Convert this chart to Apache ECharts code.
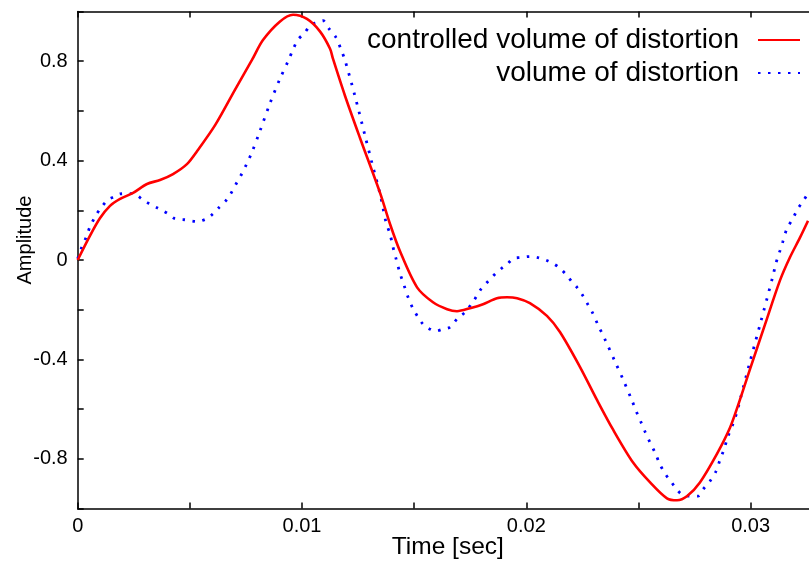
<!DOCTYPE html>
<html>
<head>
<meta charset="utf-8">
<script src="https://cdn.jsdelivr.net/npm/echarts@6/dist/echarts.min.js"></script>
<style>
html,body{margin:0;padding:0;background:#fff;}
#chart{width:809px;height:562px;}
</style>
</head>
<body>
<div id="chart"></div>
<script>
// Series names
const seriesNames = ['controlled volume of distortion', 'volume of distortion'];

// Controlled volume of distortion (red, solid)
const redTime = [0, 0.00055, 0.00099, 0.00144, 0.00189, 0.00247, 0.00309, 0.00367, 0.00425, 0.00487,
  0.00532, 0.00614, 0.00701, 0.00777, 0.00826, 0.00902, 0.00960, 0.01022, 0.01080, 0.01125,
  0.01138, 0.01192, 0.01259, 0.01348, 0.01392, 0.01437, 0.01513, 0.01584, 0.01647, 0.01691,
  0.01749, 0.01807, 0.01869, 0.01914, 0.01959, 0.02016, 0.02092, 0.02150, 0.02239, 0.02315,
  0.02387, 0.02476, 0.02552, 0.02627, 0.02672, 0.02716, 0.02774, 0.02850, 0.02908, 0.02944,
  0.02997, 0.03064, 0.03131, 0.03175, 0.03220, 0.03256];
const redAmp = [0, 0.098, 0.168, 0.218, 0.246, 0.270, 0.306, 0.322, 0.346, 0.386,
  0.438, 0.545, 0.685, 0.805, 0.885, 0.960, 0.987, 0.970, 0.920, 0.850,
  0.810, 0.660, 0.490, 0.270, 0.146, 0.035, -0.110, -0.170, -0.198, -0.206,
  -0.194, -0.178, -0.154, -0.150, -0.154, -0.174, -0.225, -0.290, -0.430, -0.563,
  -0.683, -0.815, -0.895, -0.959, -0.967, -0.951, -0.895, -0.780, -0.675, -0.585,
  -0.440, -0.260, -0.082, 0.010, 0.090, 0.158];

// Volume of distortion (blue, dotted)
const blueTime = [0, 0.00018, 0.00037, 0.00055, 0.00080, 0.00104, 0.00134, 0.00162, 0.00189, 0.00218,
  0.00247, 0.00291, 0.00318, 0.00352, 0.00380, 0.00403, 0.00434, 0.00478, 0.00531, 0.00575,
  0.00603, 0.00630, 0.00660, 0.00679, 0.00706, 0.00731, 0.00753, 0.00776, 0.00813, 0.00857,
  0.00902, 0.00938, 0.00960, 0.00982, 0.01009, 0.01040, 0.01067, 0.01094, 0.01120, 0.01152,
  0.01174, 0.01192, 0.01236, 0.01281, 0.01312, 0.01348, 0.01361, 0.01375, 0.01392, 0.01404,
  0.01419, 0.01437, 0.01455, 0.01473, 0.01494, 0.01517, 0.01539, 0.01562, 0.01597, 0.01629,
  0.01660, 0.01694, 0.01727, 0.01767, 0.01794, 0.01821, 0.01846, 0.01868, 0.01895, 0.01918,
  0.01941, 0.01975, 0.02016, 0.02052, 0.02091, 0.02119, 0.02146, 0.02177, 0.02202, 0.02226,
  0.02251, 0.02274, 0.02296, 0.02320, 0.02351, 0.02396, 0.02431, 0.02470, 0.02492, 0.02510,
  0.02529, 0.02552, 0.02574, 0.02596, 0.02621, 0.02644, 0.02667, 0.02693, 0.02725, 0.02765,
  0.02788, 0.02819, 0.02846, 0.02864, 0.02881, 0.02899, 0.02920, 0.02938, 0.02953, 0.02997,
  0.03042, 0.03099, 0.03113, 0.03131, 0.03144, 0.03162, 0.03188, 0.03210, 0.03238, 0.03256];
const blueAmp = [0.005, 0.051, 0.090, 0.134, 0.178, 0.210, 0.242, 0.254, 0.266, 0.267,
  0.267, 0.242, 0.227, 0.211, 0.198, 0.186, 0.166, 0.162, 0.155, 0.166,
  0.186, 0.211, 0.238, 0.262, 0.306, 0.346, 0.386, 0.432, 0.520, 0.630,
  0.730, 0.800, 0.847, 0.887, 0.911, 0.947, 0.955, 0.963, 0.931, 0.895,
  0.847, 0.803, 0.660, 0.500, 0.390, 0.266, 0.210, 0.150, 0.106, 0.058,
  0.006, -0.054, -0.102, -0.150, -0.194, -0.230, -0.258, -0.274, -0.286, -0.278,
  -0.270, -0.234, -0.210, -0.162, -0.122, -0.094, -0.070, -0.050, -0.030, -0.014,
  0.006, 0.010, 0.014, 0.010, -0.002, -0.014, -0.030, -0.058, -0.086, -0.110,
  -0.142, -0.178, -0.214, -0.262, -0.320, -0.410, -0.480, -0.563, -0.613, -0.650,
  -0.690, -0.735, -0.775, -0.823, -0.863, -0.890, -0.919, -0.943, -0.950, -0.950,
  -0.923, -0.890, -0.850, -0.803, -0.763, -0.710, -0.663, -0.615, -0.563, -0.410,
  -0.260, -0.066, -0.013, 0.038, 0.075, 0.126, 0.166, 0.206, 0.242, 0.270];

// Axis settings
const xMin = 0, xMax = 0.033, xStep = 0.005;   // ticks every 0.005, labels every 0.01
const yMin = -1, yMax = 1, yStep = 0.2;        // ticks every 0.2, labels every 0.4
const xTitle = 'Time [sec]';
const yTitle = 'Amplitude';

const zip = (a, b) => a.map((v, i) => [v, b[i]]);
const FONT = '"Liberation Sans", Arial, Helvetica, sans-serif';

const xLabel = v => {
  const k = Math.round(v * 1000);
  if (k % 10 !== 0) return '';
  return String(k / 1000);
};
const yLabel = v => {
  const k = Math.round(v * 10);
  if (k % 4 !== 0) return '';
  return String(k / 10);
};

const axisLineStyle = { color: '#000', width: 1.5 };

const chart = echarts.init(document.getElementById('chart'), null, { renderer: 'canvas' });
chart.setOption({
  animation: false,
  backgroundColor: '#fff',
  grid: { left: 77.7, top: 11.5, bottom: 53.5, right: -8.9, containLabel: false, outerBoundsMode: 'none' },
  legend: {
    orient: 'vertical',
    align: 'right',
    right: 3,
    top: 21,
    itemWidth: 42,
    itemHeight: 14,
    itemGap: 5,
    data: seriesNames,
    itemStyle: { color: 'rgba(0,0,0,0)', borderWidth: 0, opacity: 0 },
    textStyle: { fontFamily: FONT, fontSize: 28, color: '#000', padding: [0, 14, 0, 0] }
  },
  xAxis: [{
    type: 'value', min: xMin, max: xMax, interval: xStep, position: 'bottom',
    name: xTitle, nameLocation: 'middle', nameGap: 26, nameMoveOverlap: false,
    nameTextStyle: { fontFamily: FONT, fontSize: 24.5, color: '#000' },
    axisLine: { show: true, onZero: false, lineStyle: axisLineStyle },
    axisTick: { show: true, inside: true, length: 6, lineStyle: axisLineStyle },
    axisLabel: { formatter: xLabel, fontFamily: FONT, fontSize: 20, color: '#000', margin: 8, showMaxLabel: false },
    splitLine: { show: false }
  }, {
    type: 'value', min: xMin, max: xMax, interval: xStep, position: 'top',
    axisLine: { show: true, onZero: false, lineStyle: axisLineStyle },
    axisTick: { show: true, inside: true, length: 6, lineStyle: axisLineStyle },
    axisLabel: { show: false },
    splitLine: { show: false }
  }],
  yAxis: [{
    type: 'value', min: yMin, max: yMax, interval: yStep, position: 'left',
    name: yTitle, nameLocation: 'middle', nameGap: 42, nameRotate: 90, nameMoveOverlap: false,
    nameTextStyle: { fontFamily: FONT, fontSize: 20, color: '#000', padding: [0, 0, 0, 40] },
    axisLine: { show: true, onZero: false, lineStyle: axisLineStyle },
    axisTick: { show: true, inside: true, length: 6, lineStyle: axisLineStyle },
    axisLabel: { formatter: yLabel, fontFamily: FONT, fontSize: 20, color: '#000', margin: 10 },
    splitLine: { show: false }
  }],
  series: [{
    name: seriesNames[0], type: 'line', xAxisIndex: 0, yAxisIndex: 0,
    data: zip(redTime, redAmp), symbol: 'none', showSymbol: false, smooth: 0.3,
    lineStyle: { color: '#ff0000', width: 2.6 }, itemStyle: { color: '#ff0000' }, z: 3
  }, {
    name: seriesNames[1], type: 'line', xAxisIndex: 0, yAxisIndex: 0,
    data: zip(blueTime, blueAmp), symbol: 'none', showSymbol: false, smooth: 0.3,
    lineStyle: { color: '#0000ff', width: 2.8, type: [2.5, 7.5] }, itemStyle: { color: '#0000ff' }, z: 2
  }]
});
</script>
</body>
</html>
